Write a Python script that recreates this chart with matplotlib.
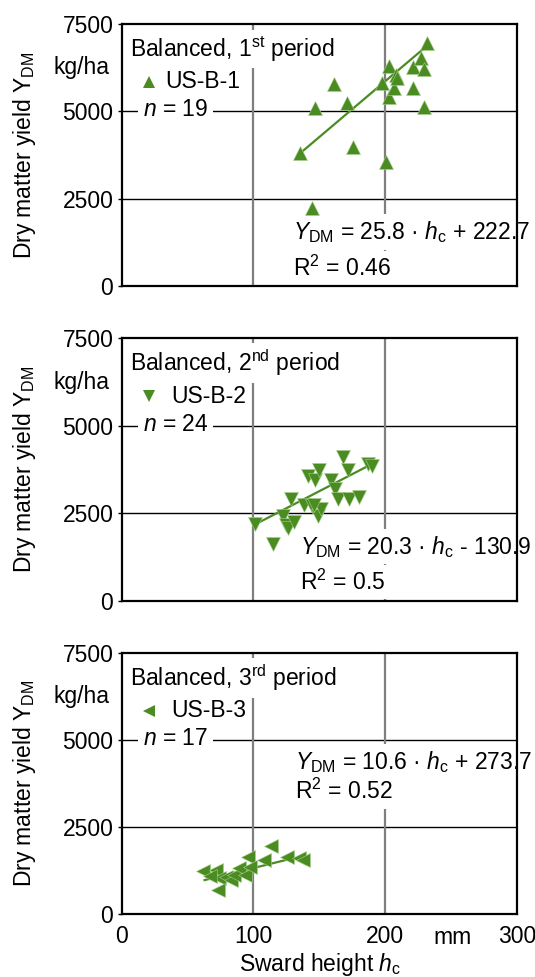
import matplotlib
matplotlib.use("Agg")
import matplotlib.pyplot as plt

plt.rcParams['font.family'] = ['Liberation Sans', 'DejaVu Sans']
plt.rcParams['mathtext.fontset'] = 'custom'
plt.rcParams['mathtext.rm'] = 'Liberation Sans'
plt.rcParams['mathtext.it'] = 'Liberation Sans:italic'
plt.rcParams['mathtext.bf'] = 'Liberation Sans:bold'

# ---------------- data ----------------
p1_x = [135.4, 147.0, 160.8, 170.9, 175.8, 144.2, 197.5, 200.5, 203.0, 203.0,
        206.3, 208.1, 209.3, 221.4, 221.4, 227.0, 229.8, 229.8, 231.6]
p1_y = [3799, 5088, 5775, 5248, 3988, 2225, 5803, 3559, 5420, 6307,
        5660, 6041, 5946, 6279, 5677, 6519, 6204, 5133, 6966]
p1_trend_x = [135.4, 229.5]
p1_trend_y = [3799, 6805]

p2_x = [100.8, 114.6, 122.2, 124.8, 126.0, 131.1, 128.6, 138.6, 141.1, 144.5,
        147.0, 148.7, 149.5, 151.3, 158.9, 162.1, 163.9, 168.2, 171.4, 172.7,
        179.8, 186.6, 189.9, 146.2]
p2_y = [2204, 1632, 2434, 2176, 2081, 2242, 2911, 2748, 3559, 2720,
        3464, 2414, 3750, 2624, 3445, 3207, 2920, 4114, 3731, 2920,
        2968, 3893, 3845, 2748]
p2_trend_x = [100.8, 189.2]
p2_trend_y = [2176, 3894]

p3_x = [61.6, 71.7, 74.2, 72.9, 79.3, 83.1, 85.6, 89.4, 93.2, 95.7,
        97.0, 108.3, 113.4, 125.8, 134.8, 137.3, 67.0]
p3_y = [1231, 1260, 1022, 687, 1060, 964, 1117, 1308, 1117, 1641,
        1355, 1546, 1947, 1622, 1594, 1546, 1100]
p3_trend_x = [62.9, 126.3]
p3_trend_y = [973, 1566]

periods = ['1$^{\\mathrm{st}}$', '2$^{\\mathrm{nd}}$', '3$^{\\mathrm{rd}}$']
series_names = ['US-B-1', 'US-B-2', 'US-B-3']
n_values = [19, 24, 17]
slopes = ['25.8', '20.3', '10.6']
intercepts = ['+ 222.7', '- 130.9', '+ 273.7']
r2_values = ['0.46', '0.5', '0.52']
markers = ['^', 'v', '<']

x_ticks = [0, 100, 200, 300]
y_ticks = [0, 2500, 5000, 7500]

# ---------------- layout ----------------
W, H = 535, 977
fig = plt.figure(figsize=(W / 100, H / 100), dpi=100)
green = '#4a8c22'
FS = 16.5

axes_px = [(24, 286), (338, 601), (652.7, 914)]
left_px, right_px = 121.7, 517
eq_pos = [(0.433, 0.206, 0.069), (0.451, 0.206, 0.073), (0.4385, 0.583, 0.468)]
leg_text_x = [165, 171, 171]

data = [(p1_x, p1_y, p1_trend_x, p1_trend_y),
        (p2_x, p2_y, p2_trend_x, p2_trend_y),
        (p3_x, p3_y, p3_trend_x, p3_trend_y)]

box = dict(facecolor='white', edgecolor='none', boxstyle='square,pad=0.2')

for i, (top, bot) in enumerate(axes_px):
    ax = fig.add_axes([left_px / W, 1 - bot / H, (right_px - left_px) / W, (bot - top) / H])
    ax.set_xlim(0, 300)
    ax.set_ylim(0, 7500)
    for yv in [2500, 5000]:
        ax.axhline(yv, color='black', lw=1.0, zorder=0.5)
    for xv in [100, 200]:
        ax.axvline(xv, color='#7f7f7f', lw=1.6, zorder=0.5)
    for s in ax.spines.values():
        s.set_linewidth(1.6)
        s.set_zorder(4)
    ax.set_yticks(y_ticks)
    ax.set_yticklabels([str(v) for v in y_ticks], fontsize=FS)
    ax.tick_params(axis='y', length=3, width=1, pad=3, direction='out')
    ax.set_xticks(x_ticks)
    if i == 2:
        ax.set_xticklabels([str(v) for v in x_ticks], fontsize=FS)
    else:
        ax.set_xticklabels([])
    ax.tick_params(axis='x', length=0, pad=8)

    xs, ys, tx, ty = data[i]
    ax.plot(tx, ty, color=green, lw=1.6, zorder=3)
    ax.plot(xs, ys, ls='none', marker=markers[i], ms=10, color=green,
            mec='#a9cf8f', mew=0.4, zorder=3.5)

    fh = (bot - top)
    ax.text((130 - left_px) / (right_px - left_px), 1 - 25 / fh,
            'Balanced, ' + periods[i] + ' period', transform=ax.transAxes,
            fontsize=FS, ha='left', va='center', bbox=box, zorder=2)
    ax.plot([(149.3 - left_px) / (right_px - left_px)], [1 - 58 / fh],
            marker=markers[i], ms=8, color=green, mew=0, transform=ax.transAxes,
            ls='none', clip_on=False, zorder=3)
    ax.text((leg_text_x[i] - left_px) / (right_px - left_px), 1 - 58 / fh,
            series_names[i], transform=ax.transAxes, fontsize=FS, ha='left',
            va='center', zorder=2)
    ax.text((143 - left_px) / (right_px - left_px), 1 - 86 / fh,
            '$\\mathit{n}$ = %d' % n_values[i], transform=ax.transAxes,
            fontsize=FS, ha='left', va='center', bbox=box, zorder=2)
    ax.text(-0.032, 1 - 44 / fh, 'kg/ha', transform=ax.transAxes,
            fontsize=FS, ha='right', va='center')

    ex, ey1, ey2 = eq_pos[i]
    ax.text(ex, ey1, '$\\mathit{Y}_{\\mathrm{DM}}$ = ' + slopes[i] +
            ' · $\\mathit{h}_{\\mathrm{c}}$ ' + intercepts[i],
            transform=ax.transAxes, fontsize=FS, ha='left', va='center',
            bbox=box, zorder=2)
    ax.text(ex, ey2, 'R$^{2}$ = ' + r2_values[i], transform=ax.transAxes,
            fontsize=FS, ha='left', va='center', bbox=box, zorder=2)

    fig.text(25 / W, 1 - (top + bot) / 2 / H, 'Dry matter yield Y$_{\\mathrm{DM}}$',
             rotation=90, fontsize=FS, ha='center', va='center')

fig.text(453 / W, 1 - 937 / H, 'mm', fontsize=FS, ha='center', va='center')
fig.text(320 / W, 1 - 964 / H, 'Sward height $\\mathit{h}_{\\mathrm{c}}$',
         fontsize=FS, ha='center', va='center')

fig.savefig('out.png', dpi=100)
